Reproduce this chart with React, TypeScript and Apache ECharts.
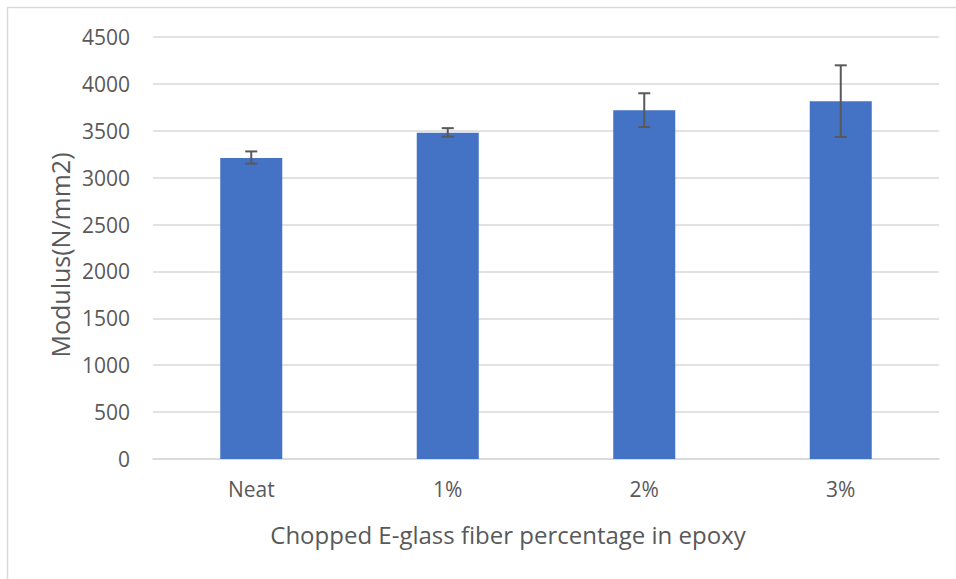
import React, { useEffect, useRef } from "react";
import * as echarts from "echarts";

const categories = ["Neat", "1%", "2%", "3%"];
const modulus = [3210, 3480, 3718, 3815];
const errLow = [3150, 3437, 3540, 3434];
const errHigh = [3280, 3528, 3900, 4198];
const yTicks = { min: 0, max: 4500, interval: 500 };
const xTitle = "Chopped E-glass fiber percentage in epoxy";
const yTitle = "Modulus(N/mm2)";

const FONT = "'Open Sans', 'Noto Sans', sans-serif";
const TEXT = "#595959";
const GRID = "#d9d9d9";

export default function App() {
  const ref = useRef<HTMLDivElement>(null);
  useEffect(() => {
    if (!ref.current) return;
    const chart = echarts.init(ref.current, null, { renderer: "svg" });
    const errData = categories.map((_, i) => [i, errLow[i], errHigh[i]]);
    chart.setOption({
      animation: false,
      backgroundColor: "#fff",
      textStyle: { fontFamily: FONT },
      graphic: [
        {
          type: "rect",
          shape: { x: 7.5, y: 7.5, width: 1000, height: 700 },
          style: { fill: "none", stroke: GRID, lineWidth: 1.5 },
          silent: true,
        },
        {
          type: "text",
          x: 508,
          y: 534,
          style: {
            text: xTitle,
            fill: TEXT,
            font: `24px ${FONT}`,
            align: "center",
            verticalAlign: "middle",
          },
        },
        {
          type: "text",
          x: 60,
          y: 255,
          rotation: Math.PI / 2,
          style: {
            text: yTitle,
            fill: TEXT,
            font: `25px ${FONT}`,
            align: "center",
            verticalAlign: "middle",
          },
        },
      ],
      grid: { left: 153, right: 17, top: 37, bottom: 120 },
      xAxis: {
        type: "category",
        data: categories,
        axisLine: { lineStyle: { color: GRID, width: 1.5 } },
        axisTick: { show: false },
        axisLabel: { color: TEXT, fontSize: 21, margin: 19, fontFamily: FONT },
      },
      yAxis: {
        type: "value",
        min: yTicks.min,
        max: yTicks.max,
        interval: yTicks.interval,
        axisLine: { show: false },
        axisTick: { show: false },
        splitLine: { lineStyle: { color: GRID, width: 1.5 } },
        axisLabel: {
          color: TEXT,
          fontSize: 21,
          margin: 23,
          fontFamily: FONT,
          formatter: (v: number) => String(v),
        },
      },
      series: [
        {
          type: "bar",
          data: modulus,
          barWidth: 62,
          itemStyle: { color: "#4472C4" },
        },
        {
          type: "custom",
          data: errData,
          z: 10,
          renderItem: (params: any, api: any) => {
            const x = api.value(0);
            const lo = api.coord([x, api.value(1)]);
            const hi = api.coord([x, api.value(2)]);
            const cap = 6;
            const style = { stroke: "#595959", lineWidth: 2 };
            return {
              type: "group",
              children: [
                { type: "line", shape: { x1: hi[0], y1: hi[1], x2: lo[0], y2: lo[1] }, style },
                { type: "line", shape: { x1: hi[0] - cap, y1: hi[1], x2: hi[0] + cap, y2: hi[1] }, style },
                { type: "line", shape: { x1: lo[0] - cap, y1: lo[1], x2: lo[0] + cap, y2: lo[1] }, style },
              ],
            };
          },
        },
      ],
    });
    return () => chart.dispose();
  }, []);
  return (
    <div
      ref={ref}
      style={{ position: "fixed", left: 0, top: 0, width: 956, height: 579 }}
    />
  );
}
